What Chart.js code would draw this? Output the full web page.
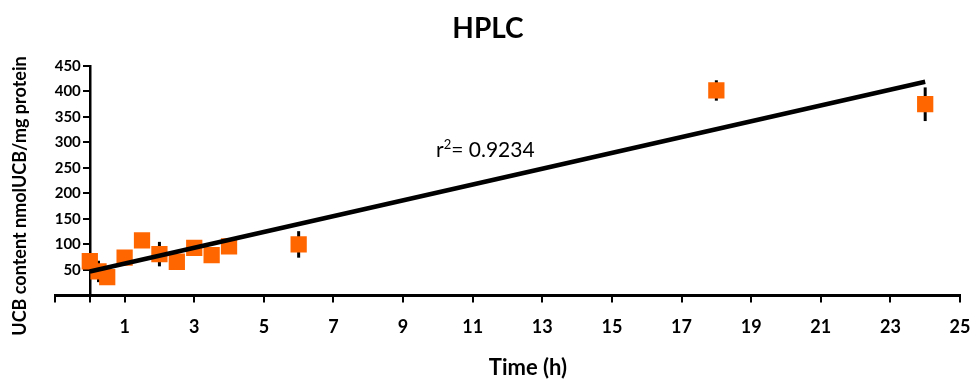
<!DOCTYPE html>
<html>
<head>
<meta charset="utf-8">
<title>HPLC</title>
<script src="https://cdn.jsdelivr.net/npm/chart.js@4.4.1/dist/chart.umd.min.js"></script>
<style>
  html, body { margin: 0; padding: 0; background: #fff; }
  canvas { display: block; }
</style>
</head>
<body>
<canvas id="chart-1" width="974" height="380"></canvas>
<script>
// Time points (h) and UCB content (nmol UCB / mg protein)
const timeH = [0, 0.25, 0.5, 1, 1.5, 2, 2.5, 3, 3.5, 4, 6, 18, 24];
const ucbContent = [67, 47, 36, 74, 108, 81, 66, 93, 79, 96, 100, 402, 375];
const ucbError = [10, 21, 8, 8, 8, 24, 8, 8, 8, 8, 26, 20, 33];

// Linear fit end points
const fitX = [0, 24];
const fitY = [47, 419];

// Axis ticks
const xTicks = [-1, 0, 1, 3, 5, 7, 9, 11, 13, 15, 17, 19, 21, 23, 25];
const yTicks = [0, 50, 100, 150, 200, 250, 300, 350, 400, 450];

const FONT = "Lato, 'Open Sans', sans-serif";

// Draw vertical error bars behind the markers
const errorBars = {
    id: "errorBars",
    beforeDatasetsDraw(chart) {
        const {ctx, scales: {x, y}} = chart;
        ctx.save();
        ctx.strokeStyle = "#000";
        ctx.lineWidth = 3;
        timeH.forEach((t, i) => {
            const px = x.getPixelForValue(t);
            ctx.beginPath();
            ctx.moveTo(px, y.getPixelForValue(ucbContent[i] + ucbError[i]));
            ctx.lineTo(px, y.getPixelForValue(ucbContent[i] - ucbError[i]));
            ctx.stroke();
        });
        ctx.restore();
    }
};

// Title, axis titles, y tick labels and r2 label
const textLabels = {
    id: "textLabels",
    afterDraw(chart) {
        const {ctx, scales: {x, y}} = chart;
        ctx.save();
        ctx.fillStyle = "#000";

        // y tick labels (the y axis sits at x = 0, so place them left of it)
        const axisX = x.getPixelForValue(0);
        ctx.textAlign = "right";
        ctx.textBaseline = "middle";
        ctx.font = "bold 15px " + FONT;
        yTicks.forEach(v => {
            if (v === 0) return;
            ctx.fillText(String(v), axisX - 9, y.getPixelForValue(v));
        });

        ctx.textBaseline = "alphabetic";
        ctx.textAlign = "center";
        ctx.font = "bold 28px " + FONT;
        ctx.fillText("HPLC", 488, 38);

        ctx.font = "bold 22px " + FONT;
        ctx.fillText("Time (h)", 528, 375);

        ctx.save();
        ctx.translate(26, 196);
        ctx.rotate(-Math.PI / 2);
        ctx.font = "bold 18px " + FONT;
        ctx.fillText("UCB content nmolUCB/mg protein", 0, 0);
        ctx.restore();

        // r² = 0.9234
        ctx.textAlign = "left";
        let cx = 436;
        ctx.font = "21px " + FONT;
        ctx.fillText("r", cx, 157);
        cx += ctx.measureText("r").width;
        ctx.font = "13px " + FONT;
        ctx.fillText("2", cx, 149);
        cx += ctx.measureText("2").width;
        ctx.font = "21px " + FONT;
        ctx.fillText("= 0.9234", cx, 157);

        ctx.restore();
    }
};

const ctx1 = document.getElementById("chart-1").getContext("2d");
const hplcChart = new Chart(ctx1, {
    type: "scatter",
    data: {
        datasets: [{
            type: "line",
            label: "Linear fit",
            data: fitX.map((v, i) => ({x: v, y: fitY[i]})),
            borderColor: "#000",
            borderWidth: 4.5,
            pointRadius: 0,
            fill: false,
            order: 0,
        }, {
            label: "HPLC",
            data: timeH.map((v, i) => ({x: v, y: ucbContent[i]})),
            pointStyle: "rect",
            pointRadius: 11.5,
            pointHoverRadius: 11.5,
            backgroundColor: "#ff6600",
            borderColor: "#ff6600",
            borderWidth: 0,
            order: 1,
        }],
    },
    options: {
        responsive: false,
        devicePixelRatio: 1,
        animation: false,
        layout: {
            padding: {left: 55, right: 14, top: 66, bottom: 28},
        },
        plugins: {
            legend: {display: false},
            tooltip: {enabled: false},
        },
        scales: {
            x: {
                type: "linear",
                position: "bottom",
                min: -1,
                max: 25,
                afterBuildTicks: scale => {
                    scale.ticks = xTicks.map(v => ({value: v}));
                },
                // keep the plot edges where the layout padding puts them
                afterFit: scale => {
                    scale.paddingLeft = 0;
                    scale.paddingRight = 0;
                },
                ticks: {
                    color: "#000",
                    font: {family: FONT, size: 18, weight: "bold"},
                    padding: 14,
                    maxRotation: 0,
                    callback: v => (v < 1 ? "" : v),
                },
                grid: {
                    drawOnChartArea: false,
                    color: "#000",
                    lineWidth: 2,
                    tickLength: 7,
                },
                border: {color: "#000", width: 3},
            },
            y: {
                type: "linear",
                position: {x: 0},
                min: 0,
                max: 450,
                afterBuildTicks: scale => {
                    scale.ticks = yTicks.map(v => ({value: v}));
                },
                ticks: {
                    callback: () => "",
                },
                grid: {
                    drawOnChartArea: false,
                    color: "#000",
                    lineWidth: 2,
                    tickLength: 6,
                },
                border: {color: "#000", width: 2.5},
            },
        },
    },
    plugins: [errorBars, textLabels],
});
</script>
</body>
</html>
